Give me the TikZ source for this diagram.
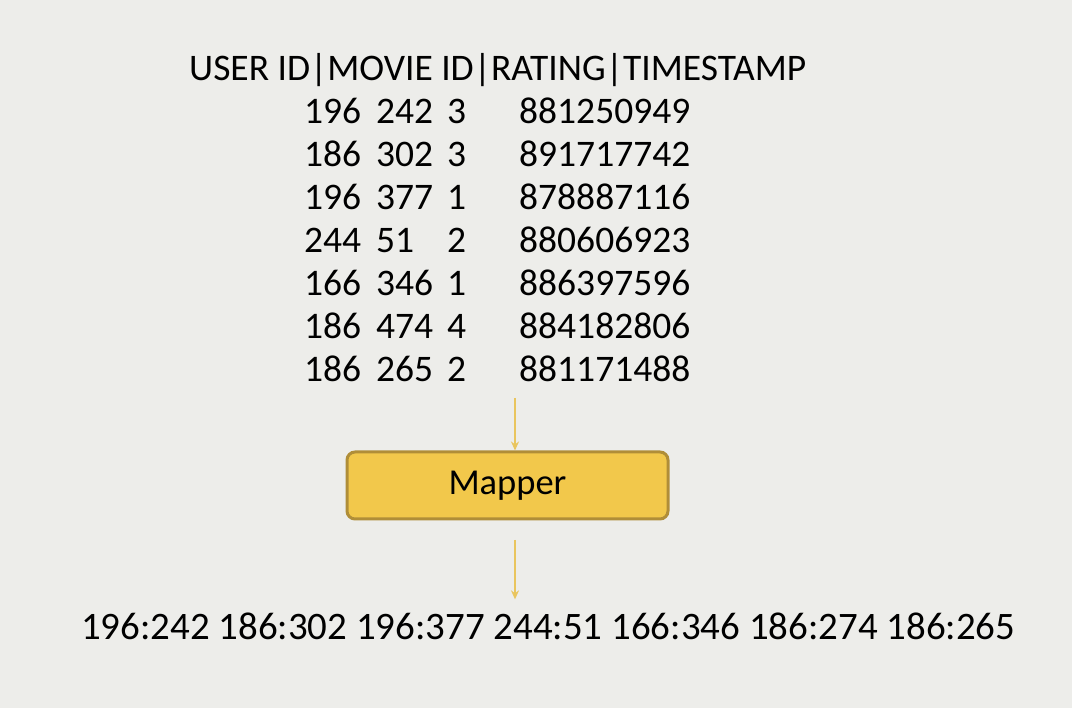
\documentclass[tikz,border=0pt]{standalone}
\usepackage{fontspec}
\setmainfont{Carlito}
\usepackage{xcolor}
\usetikzlibrary{arrows.meta,positioning,shapes}

\definecolor{bggray}{HTML}{EDEDEA}
\definecolor{mapfill}{HTML}{F2C84B}
\definecolor{mapedge}{HTML}{B08E38}
\definecolor{arrowyel}{HTML}{E9C55E}

\tikzset{
  txt/.style={inner sep=0pt,font=\fontsize{37.5}{40}\selectfont},
  cell/.style={txt,anchor=base west},
  mapbox/.style={draw=mapedge,line width=3pt,fill=mapfill,rounded corners=8pt,
    minimum width=321pt,minimum height=67pt,font=\fontsize{36.5}{38}\selectfont},
  flow/.style={draw=arrowyel,line width=1.5pt,-{Stealth[length=9pt,width=8pt]}}
}

\begin{document}
\begin{tikzpicture}[x=1pt,y=-1pt]
\fill[bggray] (0,0) rectangle (1072,708);
\useasboundingbox (0,0) rectangle (1072,708);

\node[txt,anchor=base west] (head) at (189,81) {USER ID|MOVIE ID|RATING|TIMESTAMP};

% rows of the table
\foreach \u/\m/\r/\t [count=\i] in {196/242/3/881250949,186/302/3/891717742,
  196/377/1/878887116,244/51/2/880606923,166/346/1/886397596,
  186/474/4/884182806,186/265/2/881171488}{
  \node[cell] (user\i) at (304,81+43*\i) {\u};
  \node[cell] (movie\i) at (376,81+43*\i) {\m};
  \node[cell] (rate\i) at (447,81+43*\i) {\r};
  \node[cell] (stamp\i) at (519,81+43*\i) {\t};
}

\node[mapbox] (mapper) at (507.5,485.5) {\raisebox{-3pt}{Mapper}};
\coordinate (in) at (515,398);
\coordinate (mapout) at (515,540);

\node[txt,font=\fontsize{38.9}{42}\selectfont] (pairs) at (548,626) {196:242 186:302 196:377 244:51 166:346 186:274 186:265};

\draw[flow] (in) -- (in |- mapper.north);
\draw[flow] (mapout) -- ([yshift=13]mapout |- pairs.north);
\end{tikzpicture}
\end{document}
